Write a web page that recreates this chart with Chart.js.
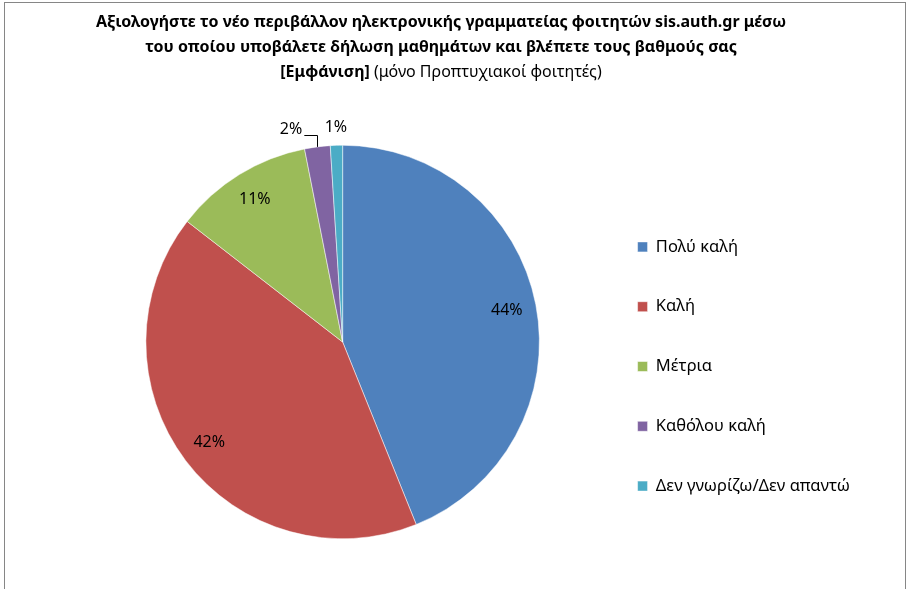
<!DOCTYPE html>
<html>
<head>
<meta charset="utf-8">
<script src="https://cdn.jsdelivr.net/npm/chart.js@4.4.0/dist/chart.umd.min.js"></script>
<style>
  html, body { margin: 0; padding: 0; background: #fff; }
  #wrap { width: 908px; height: 589px; }
</style>
</head>
<body>
<div id="wrap"><canvas id="pieChart" width="908" height="589"></canvas></div>
<script>
// Data
const categories = ['Πολύ καλή', 'Καλή', 'Μέτρια', 'Καθόλου καλή', 'Δεν γνωρίζω/Δεν απαντώ'];
const shares = [43.9, 41.6, 11.4, 2.1, 1.0];
const sliceColors = ['#4F81BD', '#C0504D', '#9BBB59', '#8064A2', '#4BACC6'];
const titleLines = [
  'Αξιολογήστε το νέο περιβάλλον ηλεκτρονικής γραμματείας φοιτητών sis.auth.gr μέσω',
  'του οποίου υποβάλετε δήλωση μαθημάτων και βλέπετε τους βαθμούς σας'
];
const titleBoldPart = '[Εμφάνιση]';
const titleNormalPart = ' (μόνο Προπτυχιακοί φοιτητές)';

const FONT = '"Noto Sans", "DejaVu Sans", sans-serif';

// Title + frame drawn by hand (mixed bold / normal on last line)
const titlePlugin = {
  id: 'titlePlugin',
  afterDraw(chart) {
    const ctx = chart.ctx;
    ctx.save();
    ctx.strokeStyle = '#868686';
    ctx.lineWidth = 1;
    ctx.strokeRect(4.5, 2.5, 901, 620);

    const cx = 441;
    ctx.fillStyle = '#000';
    ctx.textBaseline = 'alphabetic';
    ctx.textAlign = 'center';
    ctx.font = 'bold 16px ' + FONT;
    ctx.fillText(titleLines[0], cx, 27);
    ctx.fillText(titleLines[1], cx, 52);

    ctx.textAlign = 'left';
    const wBold = ctx.measureText(titleBoldPart).width;
    ctx.font = '16px ' + FONT;
    const wNorm = ctx.measureText(titleNormalPart).width;
    let x = cx - (wBold + wNorm) / 2;
    ctx.font = 'bold 16px ' + FONT;
    ctx.fillText(titleBoldPart, x, 76.5);
    ctx.font = '16px ' + FONT;
    ctx.fillText(titleNormalPart, x + wBold, 76.5);
    ctx.restore();
  }
};

// Percentage labels: inside for large slices, outside for small ones
const pctLabels = {
  id: 'pctLabels',
  afterDatasetsDraw(chart) {
    const ctx = chart.ctx;
    const arcs = chart.getDatasetMeta(0).data;
    ctx.save();
    ctx.font = '16px ' + FONT;
    ctx.fillStyle = '#000';
    ctx.textAlign = 'center';
    ctx.textBaseline = 'middle';
    arcs.forEach((arc, i) => {
      const p = arc.getProps(['x', 'y', 'startAngle', 'endAngle', 'outerRadius'], true);
      const mid = (p.startAngle + p.endAngle) / 2;
      const txt = Math.round(shares[i]) + '%';
      if (shares[i] >= 5) {
        const r = p.outerRadius * 0.85;
        ctx.fillText(txt, p.x + r * Math.cos(mid), p.y + r * Math.sin(mid));
      } else {
        const r = p.outerRadius * 1.09;
        let tx = p.x + r * Math.cos(mid);
        const ty = p.y + r * Math.sin(mid);
        if (i === 3) {
          // pushed left, with a leader line back to the slice
          tx -= 24;
          const ex = p.x + p.outerRadius * Math.cos(mid);
          const ey = p.y + p.outerRadius * Math.sin(mid);
          const w = ctx.measureText(txt).width;
          ctx.beginPath();
          ctx.strokeStyle = '#000';
          ctx.lineWidth = 1;
          ctx.moveTo(tx + w / 2 + 2, Math.round(ty) + 6.5);
          ctx.lineTo(Math.round(ex) + 0.5, Math.round(ty) + 6.5);
          ctx.lineTo(Math.round(ex) + 0.5, ey);
          ctx.stroke();
        }
        ctx.fillText(txt, tx, ty);
      }
    });
    ctx.restore();
  }
};

const ctx = document.getElementById('pieChart').getContext('2d');
const pieChart = new Chart(ctx, {
  type: 'pie',
  data: {
    labels: categories,
    datasets: [{
      data: shares,
      backgroundColor: sliceColors,
      borderColor: '#ffffff',
      borderWidth: 0.5
    }]
  },
  options: {
    responsive: false,
    animation: false,
    layout: {
      padding: { top: 145, bottom: 50, left: 91, right: 48 }
    },
    plugins: {
      tooltip: { enabled: false },
      legend: {
        position: 'right',
        align: 'center',
        title: {
          display: true,
          text: ' ',
          font: { size: 10 },
          padding: { top: 0, bottom: 37 }
        },
        labels: {
          boxWidth: 10,
          boxHeight: 10,
          padding: 43.3,
          color: '#000',
          font: { family: FONT, size: 16.5 }
        }
      }
    }
  },
  plugins: [titlePlugin, pctLabels]
});
</script>
</body>
</html>
